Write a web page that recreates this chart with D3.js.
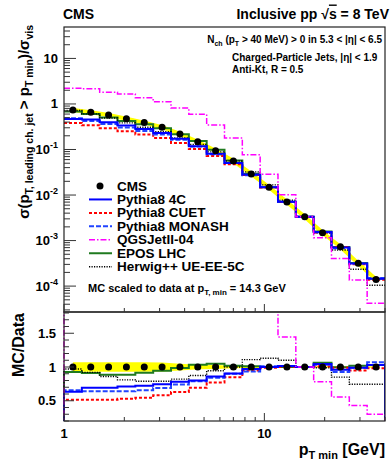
<!DOCTYPE html>
<html>
<head>
<meta charset="utf-8">
<script src="https://cdn.jsdelivr.net/npm/d3@7"></script>
<style>
  body { margin: 0; background: #fff; }
  text { font-family: "Liberation Sans", Arial, sans-serif; font-weight: bold; fill: #000; }
</style>
</head>
<body>
<div id="chart"></div>
<script>
// bin edges in pT,min (GeV)
const binEdges = [1.0, 1.2276, 1.5068, 1.8493, 2.2699, 2.7862, 3.4199, 4.1976, 5.1523,
  6.3245, 7.7625, 9.5283, 11.695, 14.355, 17.620, 21.627, 26.546, 32.584, 40.0];

// CMS data (upper panel) and relative uncertainty
const cmsData = [0.74, 0.66, 0.57, 0.475, 0.39, 0.31, 0.22, 0.148, 0.094, 0.056, 0.029,
  0.0148, 0.0070, 0.00334, 0.00148, 0.00073, 0.000316, 0.000140];
const cmsErr = [0.07, 0.07, 0.07, 0.07, 0.07, 0.065, 0.05, 0.035, 0.03, 0.02, 0.015,
  0.012, 0.01, 0.01, 0.01, 0.01, 0.01, 0.01];

// MC / Data ratios
const ratio4C     = [0.634, 0.694, 0.694, 0.71, 0.723, 0.743, 0.78, 0.80, 0.86, 0.905, 0.97, 1.0, 1.015, 1.0, 1.045, 0.96, 0.99, 1.03];
const ratioCUET   = [0.516, 0.516, 0.516, 0.53, 0.545, 0.58, 0.63, 0.694, 0.77, 0.85, 0.95, 0.99, 1.0, 1.0, 1.01, 0.99, 0.95, 0.98];
const ratioMONASH = [0.654, 0.64, 0.64, 0.64, 0.654, 0.69, 0.74, 0.79, 0.84, 0.90, 0.935, 1.01, 1.015, 1.0, 1.035, 0.926, 0.99, 1.07];
const ratioQGS    = [3.0, 3.26, 3.16, 3.5, 3.5, 3.6, 3.7, 4.0, 3.67, 3.2, 2.64, 1.93, 1.445, 1.0, 0.78, 0.555, 0.43, 0.30];
const ratioEPOS   = [0.926, 0.91, 0.886, 0.886, 0.916, 0.946, 0.985, 1.035, 1.05, 1.02, 1.01, 1.0, 1.0, 1.0, 1.064, 0.995, 1.02, 1.03];
const ratioHerwig = [0.97, 0.92, 0.86, 0.81, 0.79, 0.79, 0.82, 0.875, 0.945, 1.0, 1.11, 1.13, 1.10, 1.0, 0.99, 0.85, 0.745, 0.745];

const mcNames = ["Pythia8 4C", "Pythia8 CUET", "Pythia8 MONASH", "QGSJetII-04", "EPOS LHC", "Herwig++ UE-EE-5C"];

const W = 390, H = 463;
const xL = 64, xR = 385;
const upTop = 27, upBot = 312, loTop = 312, loBot = 421;

const x = d3.scaleLog().domain([1, 40]).range([xL, xR]);
const yUp = d3.scaleLog().domain([2.7e-5, 49]).range([upBot, upTop]);
const yLo = d3.scaleLinear().domain([0.2, 1.815]).range([loBot, loTop]);

const mc = [
  { name: mcNames[4], r: ratioEPOS,   color: "#1f7a1f", width: 2,   dash: null },
  { name: mcNames[5], r: ratioHerwig, color: "#000",    width: 1.4, dash: "1.2,1.3" },
  { name: mcNames[1], r: ratioCUET,   color: "#ff0000", width: 2,   dash: "3,2" },
  { name: mcNames[2], r: ratioMONASH, color: "#2244ff", width: 2,   dash: "5,2" },
  { name: mcNames[0], r: ratio4C,     color: "#0000ff", width: 2,   dash: null },
  { name: mcNames[3], r: ratioQGS,    color: "#ff00ff", width: 1.5, dash: "6,2,1.5,2" }
];

const svg = d3.select("#chart").append("svg")
  .attr("width", W).attr("height", H)
  .style("background", "#fff");

const defs = svg.append("defs");
defs.append("clipPath").attr("id", "clipUp").append("rect")
  .attr("x", xL).attr("y", upTop).attr("width", xR - xL).attr("height", upBot - upTop);
defs.append("clipPath").attr("id", "clipLo").append("rect")
  .attr("x", xL - 1).attr("y", loTop).attr("width", xR - xL + 1).attr("height", loBot - loTop);

const centers = cmsData.map((d, i) => Math.sqrt(binEdges[i] * binEdges[i + 1]));

function stepPoints(vals, base) {
  const pts = [];
  if (base != null) pts.push([binEdges[0], base]);
  vals.forEach((v, i) => { pts.push([binEdges[i], v]); pts.push([binEdges[i + 1], v]); });
  if (base != null) pts.push([binEdges[binEdges.length - 1], base]);
  return pts;
}

// ---------- upper panel ----------
const up = svg.append("g").attr("clip-path", "url(#clipUp)");

const bandUp = d3.area()
  .x((d, i) => x(centers[i]))
  .y0((d, i) => yUp(d * (1 - cmsErr[i])))
  .y1((d, i) => yUp(d * (1 + cmsErr[i])));
up.append("path").datum(cmsData).attr("d", bandUp).attr("fill", "#ffff00");
up.append("path").datum(cmsData)
  .attr("d", d3.line().x((d, i) => x(centers[i])).y(d => yUp(d)))
  .attr("fill", "none").attr("stroke", "#ffff00").attr("stroke-width", 4);

const lineUp = d3.line().x(d => x(d[0])).y(d => yUp(d[1]));
mc.forEach(s => {
  const vals = s.r.map((r, i) => r * cmsData[i]);
  up.append("path").datum(stepPoints(vals, null))
    .attr("d", lineUp).attr("fill", "none")
    .attr("stroke", s.color).attr("stroke-width", s.width)
    .attr("stroke-dasharray", s.dash);
});

up.selectAll("circle").data(cmsData).join("circle")
  .attr("cx", (d, i) => x(centers[i])).attr("cy", d => yUp(d))
  .attr("r", 3.5).attr("fill", "#000");

// ---------- lower panel ----------
const lo = svg.append("g").attr("clip-path", "url(#clipLo)");

const bandLo = d3.area()
  .x((d, i) => x(centers[i]))
  .y0((d, i) => yLo(1 - cmsErr[i]))
  .y1((d, i) => yLo(1 + cmsErr[i]));
lo.append("path").datum(cmsData).attr("d", bandLo).attr("fill", "#ffff00");

const lineLo = d3.line().x(d => x(d[0])).y(d => yLo(d[1]));
mc.forEach(s => {
  lo.append("path").datum(stepPoints(s.r, 0.1))
    .attr("d", lineLo).attr("fill", "none")
    .attr("stroke", s.color).attr("stroke-width", s.width)
    .attr("stroke-dasharray", s.dash);
});

lo.selectAll("circle").data(cmsData).join("circle")
  .attr("cx", (d, i) => x(centers[i])).attr("cy", yLo(1))
  .attr("r", 3.5).attr("fill", "#000");

// ---------- frames ----------
svg.append("rect").attr("x", xL).attr("y", upTop).attr("width", xR - xL).attr("height", upBot - upTop)
  .attr("fill", "none").attr("stroke", "#222").attr("stroke-width", 1.2);
svg.append("rect").attr("x", xL).attr("y", loTop).attr("width", xR - xL).attr("height", loBot - loTop)
  .attr("fill", "none").attr("stroke", "#222").attr("stroke-width", 1.2);

// ---------- ticks ----------
const tickG = svg.append("g").attr("stroke", "#333").attr("stroke-width", 1);
const isDecade = v => Math.abs(Math.log10(v) - Math.round(Math.log10(v))) < 1e-6;

yUp.ticks().forEach(t => {
  const len = isDecade(t) ? 12 : 6;
  tickG.append("line").attr("x1", xL).attr("x2", xL + len).attr("y1", yUp(t)).attr("y2", yUp(t));
});
yLo.ticks(16).forEach(t => {
  const major = Math.abs(t * 2 - Math.round(t * 2)) < 1e-6;
  const len = major ? 10 : 5;
  tickG.append("line").attr("x1", xL).attr("x2", xL + len).attr("y1", yLo(t)).attr("y2", yLo(t));
});
x.ticks().forEach(t => {
  const len = isDecade(t) ? 8 : 4;
  [upBot, loBot].forEach(yb => {
    tickG.append("line").attr("x1", x(t)).attr("x2", x(t)).attr("y1", yb).attr("y2", yb - len);
  });
});

// ---------- tick labels ----------
const upLabels = [10, 1, 0.1, 0.01, 0.001, 0.0001];
upLabels.forEach(v => {
  const e = Math.round(Math.log10(v));
  const t = svg.append("text").attr("x", 58).attr("y", yUp(v) + 4.5)
    .attr("text-anchor", "end").attr("font-size", 13);
  if (e >= 0) { t.text(v); }
  else {
    t.append("tspan").text("10");
    t.append("tspan").attr("dy", -6).attr("font-size", 9).text(e);
  }
});
[1.5, 1, 0.5].forEach(v => {
  svg.append("text").attr("x", 56).attr("y", yLo(v) + 4.5)
    .attr("text-anchor", "end").attr("font-size", 13).text(v);
});
[1, 10].forEach(v => {
  svg.append("text").attr("x", x(v)).attr("y", 438)
    .attr("text-anchor", "middle").attr("font-size", 13).text(v);
});

// ---------- axis titles ----------
const xt = svg.append("text").attr("x", 385).attr("y", 455).attr("text-anchor", "end").attr("font-size", 16);
xt.append("tspan").text("p");
xt.append("tspan").attr("dy", 4).attr("font-size", 11).text("T min");
xt.append("tspan").attr("dy", -4).text(" [GeV]");

const yt = svg.append("text").attr("transform", "translate(29,25) rotate(-90)")
  .attr("text-anchor", "end").attr("font-size", 15);
yt.append("tspan").text("σ(p");
yt.append("tspan").attr("dy", 4).attr("font-size", 10.5).text("T, leading ch. jet");
yt.append("tspan").attr("dy", -4).text(" > p");
yt.append("tspan").attr("dy", 4).attr("font-size", 10.5).text("T min");
yt.append("tspan").attr("dy", -4).text(")/σ");
yt.append("tspan").attr("dy", 4).attr("font-size", 10.5).text("vis");

svg.append("text").attr("transform", "translate(24,313) rotate(-90)")
  .attr("text-anchor", "end").attr("font-size", 16).text("MC/Data");

// ---------- header and notes ----------
svg.append("text").attr("x", 63).attr("y", 18.5).attr("font-size", 14).text("CMS");
const hdr = svg.append("text").attr("x", 389).attr("y", 18.5).attr("text-anchor", "end").attr("font-size", 14);
hdr.append("tspan").text("Inclusive pp  √");
hdr.append("tspan").style("text-decoration", "overline").text("s");
hdr.append("tspan").text(" = 8 TeV");

const n1 = svg.append("text").attr("x", 382).attr("y", 43).attr("text-anchor", "end").attr("font-size", 10);
n1.append("tspan").text("N");
n1.append("tspan").attr("dy", 2.5).attr("font-size", 7).text("ch");
n1.append("tspan").attr("dy", -2.5).text(" (p");
n1.append("tspan").attr("dy", 2.5).attr("font-size", 7).text("T");
n1.append("tspan").attr("dy", -2.5).text(" > 40 MeV) > 0 in 5.3 < |η| < 6.5");
svg.append("text").attr("x", 232).attr("y", 61).attr("font-size", 10).text("Charged-Particle Jets, |η| < 1.9");
svg.append("text").attr("x", 232).attr("y", 73).attr("font-size", 10).text("Anti-Kt, R = 0.5");

const note = svg.append("text").attr("x", 88).attr("y", 292).attr("font-size", 11);
note.append("tspan").text("MC scaled to data at p");
note.append("tspan").attr("dy", 3).attr("font-size", 8).text("T, min");
note.append("tspan").attr("dy", -3).text(" = 14.3 GeV");

// ---------- legend ----------
const legY0 = 186, legDy = 13.45;
const leg = svg.append("g");
leg.append("circle").attr("cx", 100).attr("cy", legY0).attr("r", 3.5).attr("fill", "#000");
leg.append("text").attr("x", 117).attr("y", legY0 + 4.5).attr("font-size", 13.5).text("CMS");
mcNames.forEach((name, i) => {
  const s = mc.find(m => m.name === name);
  const yy = legY0 + legDy * (i + 1);
  leg.append("line").attr("x1", 89).attr("x2", 112).attr("y1", yy).attr("y2", yy)
    .attr("stroke", s.color).attr("stroke-width", s.width).attr("stroke-dasharray", s.dash);
  leg.append("text").attr("x", 117).attr("y", yy + 4.5).attr("font-size", 13.5).text(name);
});
</script>
</body>
</html>
